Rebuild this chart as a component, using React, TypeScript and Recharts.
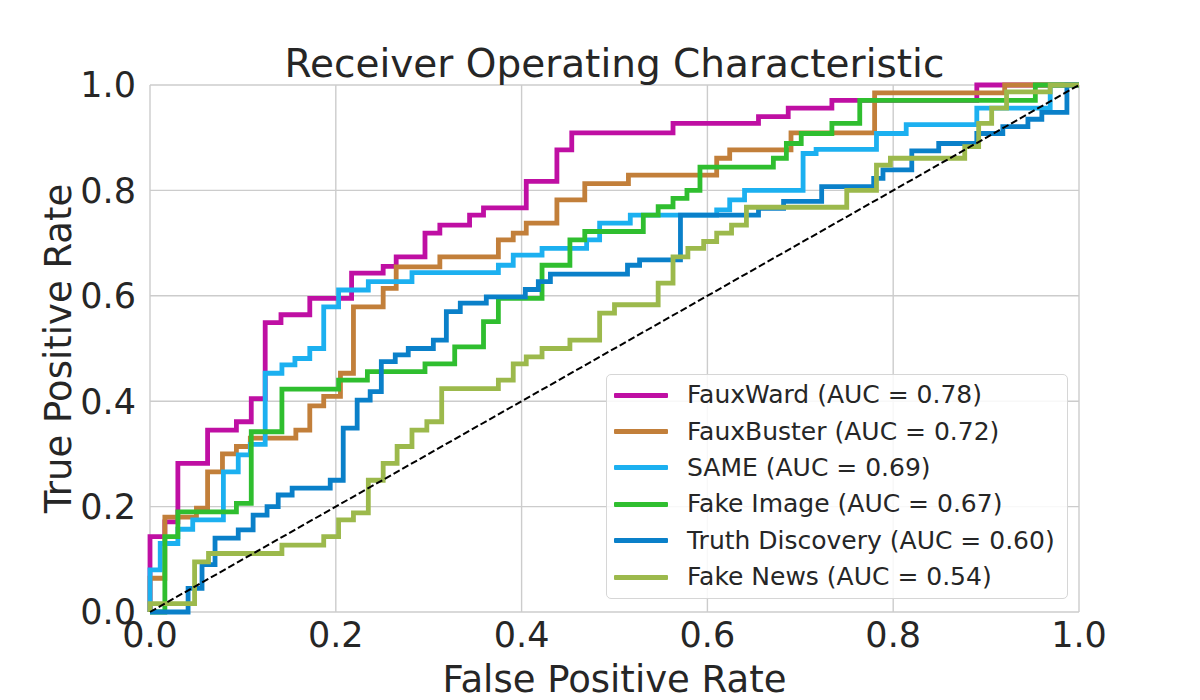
import { LineChart, Line, XAxis, YAxis, CartesianGrid, Legend } from 'recharts';

// ROC step points: at each fpr the curve rises to the matching tpr
const fauxWardFpr = [0, 0.016, 0.03, 0.062, 0.093, 0.109, 0.124, 0.141, 0.172, 0.217, 0.251, 0.265, 0.296, 0.312, 0.344, 0.359, 0.405, 0.438, 0.454, 0.563, 0.655, 0.687, 0.734, 0.89];
const fauxWardTpr = [0.143, 0.171, 0.282, 0.345, 0.361, 0.405, 0.549, 0.564, 0.595, 0.643, 0.656, 0.674, 0.719, 0.734, 0.753, 0.767, 0.817, 0.877, 0.909, 0.927, 0.94, 0.956, 0.971, 1.0];

const fauxBusterFpr = [0, 0.016, 0.05, 0.062, 0.078, 0.093, 0.108, 0.157, 0.172, 0.187, 0.205, 0.219, 0.251, 0.265, 0.312, 0.375, 0.391, 0.405, 0.438, 0.468, 0.515, 0.61, 0.624, 0.69, 0.78, 0.92];
const fauxBusterTpr = [0.064, 0.18, 0.197, 0.266, 0.3, 0.314, 0.33, 0.345, 0.391, 0.409, 0.453, 0.579, 0.614, 0.655, 0.674, 0.706, 0.719, 0.738, 0.782, 0.813, 0.829, 0.861, 0.877, 0.909, 0.985, 1.0];

const sameFpr = [0, 0.011, 0.03, 0.046, 0.079, 0.095, 0.108, 0.124, 0.142, 0.156, 0.172, 0.187, 0.203, 0.235, 0.282, 0.375, 0.391, 0.422, 0.47, 0.484, 0.517, 0.61, 0.624, 0.64, 0.703, 0.717, 0.782, 0.814, 0.89, 0.969];
const sameTpr = [0.08, 0.13, 0.157, 0.175, 0.266, 0.298, 0.318, 0.453, 0.469, 0.481, 0.5, 0.579, 0.611, 0.627, 0.644, 0.658, 0.677, 0.69, 0.706, 0.738, 0.753, 0.763, 0.782, 0.8, 0.87, 0.878, 0.908, 0.925, 0.956, 1.0];

const fakeImageFpr = [0.016, 0.03, 0.093, 0.109, 0.142, 0.203, 0.234, 0.296, 0.328, 0.359, 0.375, 0.422, 0.452, 0.468, 0.531, 0.547, 0.563, 0.578, 0.592, 0.671, 0.685, 0.701, 0.734, 0.764, 0.953];
const fakeImageTpr = [0.143, 0.19, 0.206, 0.342, 0.423, 0.44, 0.456, 0.471, 0.503, 0.551, 0.595, 0.658, 0.706, 0.722, 0.753, 0.769, 0.785, 0.8, 0.844, 0.861, 0.889, 0.908, 0.927, 0.971, 1.0];

const truthFpr = [0.041, 0.056, 0.07, 0.095, 0.111, 0.126, 0.138, 0.153, 0.194, 0.208, 0.223, 0.237, 0.249, 0.264, 0.278, 0.305, 0.319, 0.334, 0.362, 0.404, 0.418, 0.431, 0.514, 0.527, 0.571, 0.655, 0.682, 0.723, 0.779, 0.789, 0.82, 0.849, 0.89, 0.918, 0.945, 0.96, 0.987];
const truthTpr = [0.045, 0.09, 0.14, 0.156, 0.184, 0.2, 0.222, 0.235, 0.25, 0.349, 0.402, 0.418, 0.475, 0.488, 0.5, 0.516, 0.57, 0.586, 0.598, 0.612, 0.627, 0.641, 0.658, 0.668, 0.753, 0.766, 0.779, 0.807, 0.823, 0.839, 0.875, 0.889, 0.908, 0.921, 0.935, 0.948, 1.0];

const fakeNewsFpr = [0, 0.048, 0.063, 0.142, 0.187, 0.203, 0.219, 0.235, 0.251, 0.266, 0.282, 0.298, 0.314, 0.375, 0.391, 0.405, 0.422, 0.452, 0.484, 0.5, 0.547, 0.563, 0.579, 0.596, 0.61, 0.626, 0.642, 0.75, 0.782, 0.797, 0.877, 0.892, 0.906, 0.922, 0.969];
const fakeNewsTpr = [0.016, 0.095, 0.111, 0.127, 0.143, 0.175, 0.188, 0.25, 0.282, 0.314, 0.345, 0.361, 0.424, 0.44, 0.471, 0.484, 0.5, 0.516, 0.567, 0.583, 0.624, 0.674, 0.69, 0.703, 0.719, 0.734, 0.768, 0.8, 0.848, 0.861, 0.883, 0.927, 0.956, 0.987, 1.0];

const axisTicks = [0, 0.2, 0.4, 0.6, 0.8, 1.0];

// turn step points into the corner points of the staircase
const toSteps = (fpr: number[], tpr: number[]) => {
  const pts = [{ x: 0, y: 0 }];
  let prev = 0;
  fpr.forEach((f, i) => {
    pts.push({ x: f, y: prev });
    pts.push({ x: f, y: tpr[i] });
    prev = tpr[i];
  });
  pts.push({ x: 1, y: prev });
  pts.push({ x: 1, y: 1 });
  return pts;
};

const series = [
  { name: 'FauxWard (AUC = 0.78)', color: '#bf0fa3', data: toSteps(fauxWardFpr, fauxWardTpr) },
  { name: 'FauxBuster (AUC = 0.72)', color: '#c27f3a', data: toSteps(fauxBusterFpr, fauxBusterTpr) },
  { name: 'SAME (AUC = 0.69)', color: '#1cb0f0', data: toSteps(sameFpr, sameTpr) },
  { name: 'Fake Image (AUC = 0.67)', color: '#2fbe2f', data: toSteps(fakeImageFpr, fakeImageTpr) },
  { name: 'Truth Discovery (AUC = 0.60)', color: '#0a80c9', data: toSteps(truthFpr, truthTpr) },
  { name: 'Fake News (AUC = 0.54)', color: '#9cb94c', data: toSteps(fakeNewsFpr, fakeNewsTpr) },
];

const chanceLine = [{ x: 0, y: 0 }, { x: 1, y: 1 }];

const FONT = '"DejaVu Sans", sans-serif';
const TEXT = '#262626';

// keep the legend in plotting order (recharts sorts it by name otherwise)
const renderLegend = (props: any) => {
  const items = (props.payload || [])
    .filter((p: any) => p.type !== 'none')
    .sort(
      (a: any, b: any) =>
        series.findIndex(s => s.name === a.value) - series.findIndex(s => s.name === b.value)
    );
  return (
    <div
      style={{
        boxSizing: 'border-box',
        width: 462,
        height: 225,
        padding: '2px 0 0 7px',
        border: '1px solid #d6d6d6',
        borderRadius: 5,
        background: 'rgba(255,255,255,0.85)',
        fontFamily: FONT,
      }}
    >
      {items.map((item: any) => (
        <div key={item.value} style={{ display: 'flex', alignItems: 'center', height: 36.4 }}>
          <div style={{ width: 54, height: 5, background: item.color, borderRadius: 1 }} />
          <span style={{ marginLeft: 19, fontSize: 25, color: TEXT, lineHeight: '36px', whiteSpace: 'nowrap' }}>
            {item.value}
          </span>
        </div>
      ))}
    </div>
  );
};

export default function App() {
  return (
    <div style={{ position: 'relative', width: 1200, height: 700, background: '#fff', fontFamily: FONT }}>
      <style>{'body{margin:0}'}</style>
      <div
        style={{
          position: 'absolute',
          left: 150,
          width: 929,
          top: 44,
          textAlign: 'center',
          fontSize: 39,
          lineHeight: '39px',
          color: TEXT,
          zIndex: 2,
        }}
      >
        Receiver Operating Characteristic
      </div>
      <LineChart width={1200} height={700} margin={{ top: 85, right: 121, bottom: 0, left: 0 }}>
        <CartesianGrid stroke="#cccccc" strokeWidth={1.4} />
        <XAxis
          type="number"
          dataKey="x"
          domain={[0, 1]}
          ticks={axisTicks}
          tickFormatter={(v: number) => v.toFixed(1)}
          axisLine={false}
          tickLine={false}
          tickSize={8}
          height={88}
          tick={{ fontSize: 35, fill: TEXT, fontFamily: FONT }}
          label={{ value: 'False Positive Rate', position: 'insideBottom', offset: 8, style: { fontSize: 37, fill: TEXT, fontFamily: FONT } }}
        />
        <YAxis
          type="number"
          dataKey="y"
          domain={[0, 1]}
          ticks={axisTicks}
          tickFormatter={(v: number) => v.toFixed(1)}
          axisLine={false}
          tickLine={false}
          tickSize={12}
          width={150}
          tick={{ fontSize: 35, fill: TEXT, fontFamily: FONT }}
          label={{ value: 'True Positive Rate', angle: -90, position: 'insideLeft', offset: 58, style: { fontSize: 37, fill: TEXT, fontFamily: FONT, textAnchor: 'middle' } }}
        />
        {series.map(s => (
          <Line
            key={s.name}
            data={s.data}
            dataKey="y"
            name={s.name}
            type="linear"
            stroke={s.color}
            strokeWidth={4.8}
            dot={false}
            activeDot={false}
            isAnimationActive={false}
          />
        ))}
        <Line
          data={chanceLine}
          dataKey="y"
          name="chance"
          type="linear"
          stroke="#000"
          strokeWidth={2}
          strokeDasharray="7 3"
          dot={false}
          activeDot={false}
          legendType="none"
          isAnimationActive={false}
        />
        <Legend
          content={renderLegend}
          layout="vertical"
          align="center"
          verticalAlign="middle"
          wrapperStyle={{ left: 606, top: 374, width: 462, height: 225 }}
        />
      </LineChart>
    </div>
  );
}
